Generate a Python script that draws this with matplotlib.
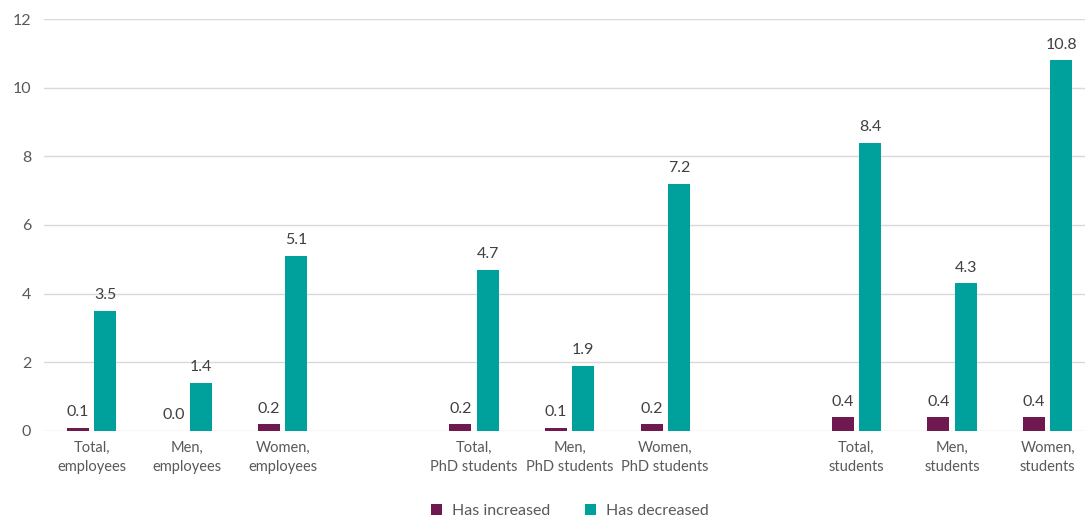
import numpy as np
import matplotlib.pyplot as plt

categories = ["Total,\nemployees", "Men,\nemployees", "Women,\nemployees", "",
              "Total,\nPhD students", "Men,\nPhD students", "Women,\nPhD students", "",
              "Total,\nstudents", "Men,\nstudents", "Women,\nstudents"]
increased = [0.1, 0.0, 0.2, None, 0.2, 0.1, 0.2, None, 0.4, 0.4, 0.4]
decreased = [3.5, 1.4, 5.1, None, 4.7, 1.9, 7.2, None, 8.4, 4.3, 10.8]

purple = "#701850"
teal = "#00A19C"
text_col = "#595959"

plt.rcParams['font.family'] = ['Lato', 'DejaVu Sans']

fig = plt.figure(figsize=(10.85, 5.2), dpi=100)
ax = fig.add_axes([43.7 / 1085, 89 / 520, (1085 - 43.7) / 1085, 412 / 520])

x = np.arange(len(categories))
idx = [i for i, v in enumerate(increased) if v is not None]
inc = [increased[i] for i in idx]
dec = [decreased[i] for i in idx]
xs = x[idx]
w = 0.23
off = 0.143

ax.bar(xs - off, inc, w, color=purple, label="Has increased", zorder=3)
ax.bar(xs + off, dec, w, color=teal, label="Has decreased", zorder=3)

for xi, v in zip(xs, inc):
    ax.text(xi - off, v + 0.25, f"{v:.1f}", ha='center', va='bottom', fontsize=11.5, color="#404040")
for xi, v in zip(xs, dec):
    ax.text(xi + off, v + 0.25, f"{v:.1f}", ha='center', va='bottom', fontsize=11.5, color="#404040")

ax.set_xlim(-0.5, 10.39)
ax.set_ylim(0, 12)
ax.set_yticks(range(0, 13, 2))
ax.set_xticks(x)
ax.set_xticklabels(categories, fontsize=10.5, color=text_col, linespacing=1.45)
ax.tick_params(axis='y', labelsize=11.5, labelcolor=text_col, length=0, pad=9)
ax.tick_params(axis='x', length=0, pad=7)
ax.grid(axis='y', color="#d9d9d9", linewidth=1, zorder=0)
for s in ax.spines.values():
    s.set_visible(False)

leg = fig.legend(loc='center', bbox_to_anchor=(570 / 1085, 1 - 511 / 520), ncol=2,
                 frameon=False, fontsize=11.5, handlelength=0.7, handleheight=0.7,
                 columnspacing=2.2, handletextpad=0.6)
for t in leg.get_texts():
    t.set_color(text_col)

fig.savefig("out.png", dpi=100)
